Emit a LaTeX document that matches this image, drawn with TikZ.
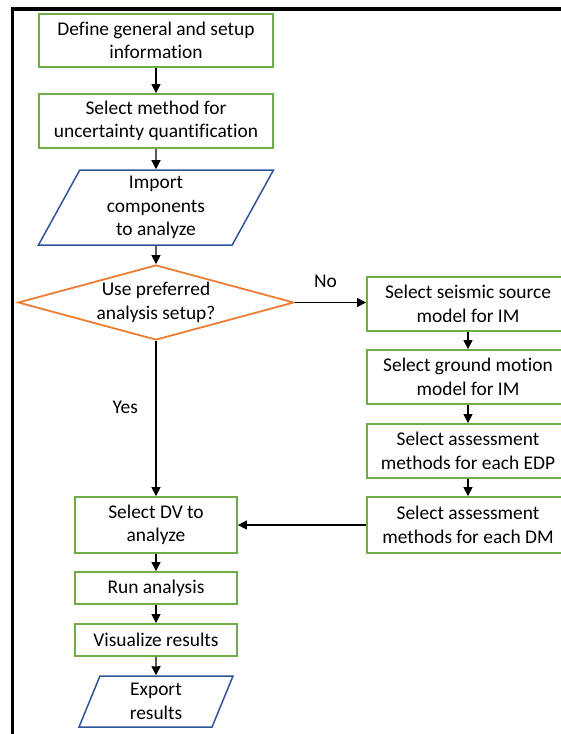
\documentclass[tikz,border=0pt]{standalone}
\usepackage{fontspec}
\setmainfont{Carlito}[Ligatures=NoCommon]
\usetikzlibrary{arrows.meta,shapes.geometric}
\definecolor{boxgreen}{RGB}{112,173,71}
\definecolor{ioblue}{RGB}{47,85,151}
\definecolor{askorange}{RGB}{237,125,49}
\begin{document}
\begin{tikzpicture}[x=1pt, y=-1pt,
  every node/.style={font=\fontsize{19.4}{23.5}\selectfont, align=center},
  box/.style={draw=boxgreen, line width=1.8pt, inner sep=0pt},
  io/.style={draw=ioblue, line width=1.5pt, trapezium, trapezium stretches body, inner sep=1pt},
  arr/.style={line width=1.4pt, -{Triangle[length=9pt,width=9pt]}}]
  \clip (0,0) rectangle (561,734);
  \draw[line width=3.5pt] (12.5,734) -- (12.5,9) -- (561,9);
  % main column
  \node[box, minimum width=234, minimum height=53] (def) at (156,40.5) {Define general and setup\\information};
  \node[box, minimum width=234, minimum height=54] (sel) at (156,121) {Select method for\\uncertainty quantification};
  \node[io, trapezium left angle=57.4, trapezium right angle=122.6, minimum width=235, minimum height=75] (imp) at (156,207.5) {Import\\components\\to analyze};
  \node[draw=askorange, line width=1.8pt, diamond, inner sep=0pt, minimum width=276, minimum height=75] (ask) at (156,302.5) {};
  \node (asktext) at (ask.center) {Use preferred\\analysis setup?};
  \node[box, minimum width=162, minimum height=56] (dv) at (156,525) {Select DV to\\analyze};
  \node[box, minimum width=162, minimum height=32] (run) at (156,588) {Run analysis};
  \node[box, minimum width=162, minimum height=32] (vis) at (156,640) {Visualize results};
  \node[io, trapezium left angle=61.2, trapezium right angle=118.8, minimum width=154, minimum height=51] (exp) at (156,701.5) {Export\\results};
  % custom setup column
  \node[box, minimum width=202, minimum height=54] (src) at (468,304) {Select seismic source\\model for IM};
  \node[box, minimum width=202, minimum height=54] (gmm) at (468,377) {Select ground motion\\model for IM};
  \node[box, minimum width=202, minimum height=54] (edp) at (468,451) {Select assessment\\methods for each EDP};
  \node[box, minimum width=202, minimum height=56] (dm) at (468,525) {Select assessment\\methods for each DM};
  % connectors
  \draw[arr] (def) -- (sel);
  \draw[arr] (sel) -- (imp);
  \draw[arr] (imp) -- (ask);
  \draw[arr] (ask.east) -- node[above=11pt, pos=0.43] {No} (ask.east -| src.west);
  \draw[arr] (ask) -- node[left=14pt, pos=0.43] {Yes} (dv);
  \draw[arr] (src) -- (gmm);
  \draw[arr] (gmm) -- (edp);
  \draw[arr] (edp) -- (dm);
  \draw[arr] (dm) -- (dv);
  \draw[arr] (dv) -- (run);
  \draw[arr] (run) -- (vis);
  \draw[arr] (vis) -- (exp);
\end{tikzpicture}
\end{document}
